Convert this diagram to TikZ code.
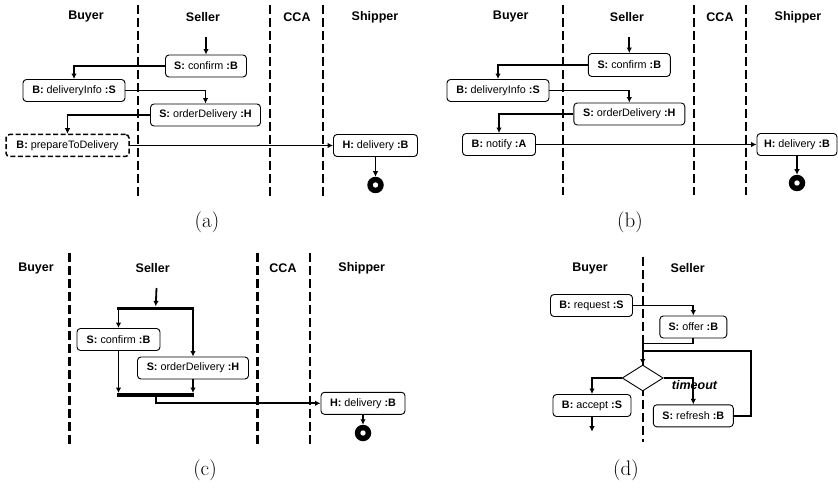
\documentclass[tikz,border=0pt]{standalone}
\usepackage{fontspec}
\newfontfamily\hv{Liberation Sans}
\usetikzlibrary{arrows.meta,shapes.geometric}
\tikzset{
 lane/.style={line width=2.4pt, dash pattern=on 9pt off 4pt},
 lanelbl/.style={font=\hv\bfseries\fontsize{12.5}{14}\selectfont, inner sep=0pt},
 act/.style={draw, rounded corners=3.5pt, fill=white, line width=0.9pt, minimum height=22pt, inner sep=0pt, font=\hv\fontsize{10.8}{12}\selectfont},
 dashact/.style={act, line width=1.5pt, dash pattern=on 5pt off 2.5pt},
 conn/.style={line width=1.8pt},
 arr/.style={conn, -{Latex[length=5.5pt,width=5.5pt]}},
 endst/.style={circle, fill=black, minimum size=16.5pt, inner sep=0pt, outer sep=0pt,
   path picture={\fill[white] (path picture bounding box.center) circle (2.7pt);}},
 barst/.style={fill=black, minimum height=3.5pt, inner sep=0pt},
 decision/.style={diamond, draw, fill=white, line width=0.9pt, minimum width=41pt, minimum height=26pt, inner sep=0pt},
 guard/.style={font=\hv\bfseries\itshape\fontsize{12.5}{14}\selectfont, inner sep=0pt},
 capst/.style={font=\fontsize{21}{24}\selectfont, inner sep=0pt},
}
\newcommand\actlbl[3]{\textbf{#1:} #2 \textbf{:#3}}
\begin{document}
\begin{tikzpicture}[x=1pt,y=-1pt]
\useasboundingbox (0,0) rectangle (838,489);
% ---------------- (a)
\foreach \x in {138,270,323} \draw[lane] (\x,5) -- (\x,197);
\node[lanelbl] (la1) at (86,17) {Buyer};
\node[lanelbl] (la2) at (203,17) {Seller};
\node[lanelbl] (la3) at (297,17) {CCA};
\node[lanelbl] (la4) at (375,17) {Shipper};
\coordinate (a0) at (206,37);
\node[act, minimum width=81pt] (ac) at (206,66) {\actlbl{S}{confirm}{B}};
\node[act, minimum width=102pt] (adi) at (74,90.5) {\actlbl{B}{deliveryInfo}{S}};
\node[act, minimum width=110pt] (aod) at (205.5,115) {\actlbl{S}{orderDelivery}{H}};
\node[dashact, minimum width=123pt] (apd) at (67.5,145.5) {\textbf{B:} prepareToDelivery};
\node[act, minimum width=84pt] (ad) at (375.5,145.5) {\actlbl{H}{delivery}{B}};
\node[endst] (ae) at (375.5,185) {};
\draw[arr] (a0) -- (ac.north);
\draw[arr] (ac.west) -| (adi.north);
\draw[arr] (adi.east) -| (aod.north);
\draw[arr] (aod.west) -| (apd.north);
\draw[arr] (apd.east) -- (ad.west);
\draw[arr] (ad.south) -- (ae.north);
\node[capst] (capa) at (207,222) {(a)};
% ---------------- (b)
\foreach \x in {562.7,694,746} \draw[lane] (\x,5) -- (\x,195);
\node[lanelbl] (lb1) at (510.7,17) {Buyer};
\node[lanelbl] (lb2) at (627,17) {Seller};
\node[lanelbl] (lb3) at (720,17) {CCA};
\node[lanelbl] (lb4) at (798,17) {Shipper};
\coordinate (b0) at (629.3,37);
\node[act, minimum width=82pt, minimum height=23pt] (bc) at (629.3,65) {\actlbl{S}{confirm}{B}};
\node[act, minimum width=102pt] (bdi) at (498,90.5) {\actlbl{B}{deliveryInfo}{S}};
\node[act, minimum width=111pt] (bod) at (629.3,114) {\actlbl{S}{orderDelivery}{H}};
\node[act, minimum width=73pt] (bn) at (499,144.5) {\actlbl{B}{notify}{A}};
\node[act, minimum width=80pt] (bd) at (797,144.5) {\actlbl{H}{delivery}{B}};
\node[endst] (be) at (797,183) {};
\draw[arr] (b0) -- (bc.north);
\draw[arr] (bc.west) -| (bdi.north);
\draw[arr] (bdi.east) -| (bod.north);
\draw[arr] (bod.west) -| (bn.north);
\draw[arr] (bn.east) -- (bd.west);
\draw[arr] (bd.south) -- (be.north);
\node[capst] (capb) at (630,222) {(b)};
% ---------------- (c)
\foreach \x in {69.3,257.3,310} \draw[lane] (\x,253) -- (\x,447);
\node[lanelbl] (lc1) at (36,268) {Buyer};
\node[lanelbl] (lc2) at (152.7,268) {Seller};
\node[lanelbl] (lc3) at (283,268) {CCA};
\node[lanelbl] (lc4) at (361.7,268) {Shipper};
\coordinate (c0) at (156.5,288);
\node[barst, minimum width=77pt] (fork1) at (155.75,308.3) {};
\node[act, minimum width=83pt] (cc) at (118.5,339.5) {\actlbl{S}{confirm}{B}};
\node[act, minimum width=111pt] (cod) at (193,368) {\actlbl{S}{orderDelivery}{H}};
\node[barst, minimum width=77pt] (join1) at (155.75,395) {};
\node[act, minimum width=84pt] (cd) at (363,403.3) {\actlbl{H}{delivery}{B}};
\node[endst] (ce) at (363,433) {};
\draw[arr] (c0) -- (fork1.north);
\draw[arr] (cc.north |- fork1.south) -- (cc.north);
\draw[arr] (cod.north |- fork1.south) -- (cod.north);
\draw[arr] (cc.south) -- (cc.south |- join1.north);
\draw[arr] (cod.south) -- (cod.south |- join1.north);
\draw[arr] (join1.south) |- (cd.west);
\draw[arr] (cd.south) -- (ce.north);
\node[capst] (capc) at (205,470) {(c)};
% ---------------- (d)
\draw[lane] (642.7,256.7) -- (642.7,441.7);
\node[lanelbl] (ld1) at (590,268.3) {Buyer};
\node[lanelbl] (ld2) at (687.7,268.3) {Seller};
\node[act, minimum width=82pt] (dr) at (591.5,305.5) {\actlbl{B}{request}{S}};
\node[act, minimum width=67pt] (do) at (693.3,327) {\actlbl{S}{offer}{B}};
\node[decision] (dia) at (642.7,378) {};
\node[act, minimum width=78pt] (da) at (592,405.5) {\actlbl{B}{accept}{S}};
\node[act, minimum width=80pt] (dref) at (693.3,415.8) {\actlbl{S}{refresh}{B}};
\coordinate (dend) at (592,431.7);
\coordinate (dm) at (642.7,351);
\draw[arr] (dr.east) -| (do.north);
\draw[arr] (do.south) -- ++(0,5) -| (dia.north);
\draw[conn] (dref.east) -- ++(17,0) |- (dm);
\draw[arr] (dia.west) -| (da.north);
\draw[arr] (dia.east) -| (dref.north);
\draw[arr] (da.south) -- (dend);
\node[guard] (dto) at (694.5,385) {timeout};
\node[capst] (capd) at (626,470) {(d)};
\end{tikzpicture}
\end{document}
